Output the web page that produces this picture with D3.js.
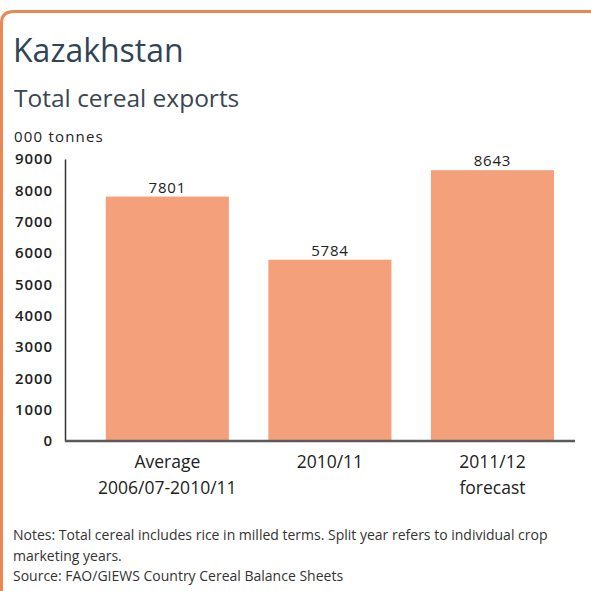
<!DOCTYPE html>
<html>
<head>
<meta charset="utf-8">
<script src="https://cdn.jsdelivr.net/npm/d3@7"></script>
<style>
  body { margin: 0; background: #fff; }
  text { font-family: "Open Sans", "Noto Sans", sans-serif; }
</style>
</head>
<body>
<div id="app"></div>
<script>
const categories = [["Average", "2006/07-2010/11"], ["2010/11"], ["2011/12", "forecast"]];
const values = [7801, 5784, 8643];
const yTicks = [0, 1000, 2000, 3000, 4000, 5000, 6000, 7000, 8000, 9000];

const w = 591, h = 591;
const svg = d3.select("#app")
    .append("svg")
    .attr("width", w)
    .attr("height", h);

// frame
svg.append("path")
    .attr("d", "M1.5,591 L1.5,23 Q1.5,11.5 14,11.5 L591,11.5")
    .attr("fill", "none")
    .attr("stroke", "#ea8752")
    .attr("stroke-width", 3);

svg.append("text")
    .attr("x", 13).attr("y", 62)
    .attr("font-size", 32)
    .attr("fill", "#2f4457")
    .text("Kazakhstan");

svg.append("text")
    .attr("x", 14).attr("y", 107)
    .attr("font-size", 24.5)
    .attr("fill", "#3a4652")
    .text("Total cereal exports");

svg.append("text")
    .attr("x", 14).attr("y", 142)
    .attr("font-size", 15)
    .attr("letter-spacing", 1.2)
    .attr("fill", "#222")
    .text("000 tonnes");

const plotLeft = 65, plotRight = 575, plotBottom = 441, plotTop = 159;

const x = d3.scaleBand()
    .domain(d3.range(values.length))
    .range([plotLeft, plotRight])
    .paddingInner(0.243)
    .paddingOuter(0.19)
    .align(0.66);

const y = d3.scaleLinear()
    .domain([0, 9000])
    .range([plotBottom, plotTop]);

svg.selectAll(".bar")
    .data(values)
    .enter()
    .append("rect")
    .attr("class", "bar")
    .attr("x", (d, i) => x(i))
    .attr("y", d => y(d))
    .attr("width", x.bandwidth())
    .attr("height", d => plotBottom - y(d))
    .attr("fill", "#f3a07b");

svg.selectAll(".val")
    .data(values)
    .enter()
    .append("text")
    .attr("x", (d, i) => x(i) + x.bandwidth() / 2)
    .attr("y", d => y(d) - 4)
    .attr("text-anchor", "middle")
    .attr("font-size", 15)
    .attr("letter-spacing", 0.8)
    .attr("fill", "#222")
    .text(d => d);

const yAxis = d3.axisLeft(y).tickValues(yTicks).tickFormat(d3.format("d")).tickSize(0).tickPadding(12);
const gy = svg.append("g")
    .attr("transform", "translate(" + plotLeft + ",0)")
    .call(yAxis);
gy.select(".domain").attr("stroke", "#333").attr("stroke-width", 1.5);
gy.selectAll("text")
    .attr("font-size", 15)
    .attr("font-weight", 600)
    .attr("letter-spacing", 0.9)
    .attr("fill", "#222")
    .style("font-family", "'Open Sans', sans-serif");

svg.append("line")
    .attr("x1", plotLeft).attr("x2", plotRight)
    .attr("y1", plotBottom).attr("y2", plotBottom)
    .attr("stroke", "#5a5a5a")
    .attr("stroke-width", 2.5);

svg.selectAll(".cat")
    .data(categories)
    .enter()
    .append("text")
    .attr("text-anchor", "middle")
    .attr("font-size", 17.5)
    .attr("fill", "#222")
    .each(function (d, i) {
        d3.select(this).selectAll("tspan")
            .data(d)
            .enter()
            .append("tspan")
            .attr("x", x(i) + x.bandwidth() / 2)
            .attr("y", (t, j) => 468 + j * 26)
            .text(t => t);
    });

const notes = [
    "Notes: Total cereal includes rice in milled terms. Split year refers to individual crop",
    "marketing years.",
    "Source: FAO/GIEWS Country Cereal Balance Sheets"
];
svg.selectAll(".note")
    .data(notes)
    .enter()
    .append("text")
    .attr("x", 13)
    .attr("y", (d, i) => 540 + i * 20.5)
    .attr("font-size", 14)
    .attr("fill", "#333")
    .text(d => d);
</script>
</body>
</html>
